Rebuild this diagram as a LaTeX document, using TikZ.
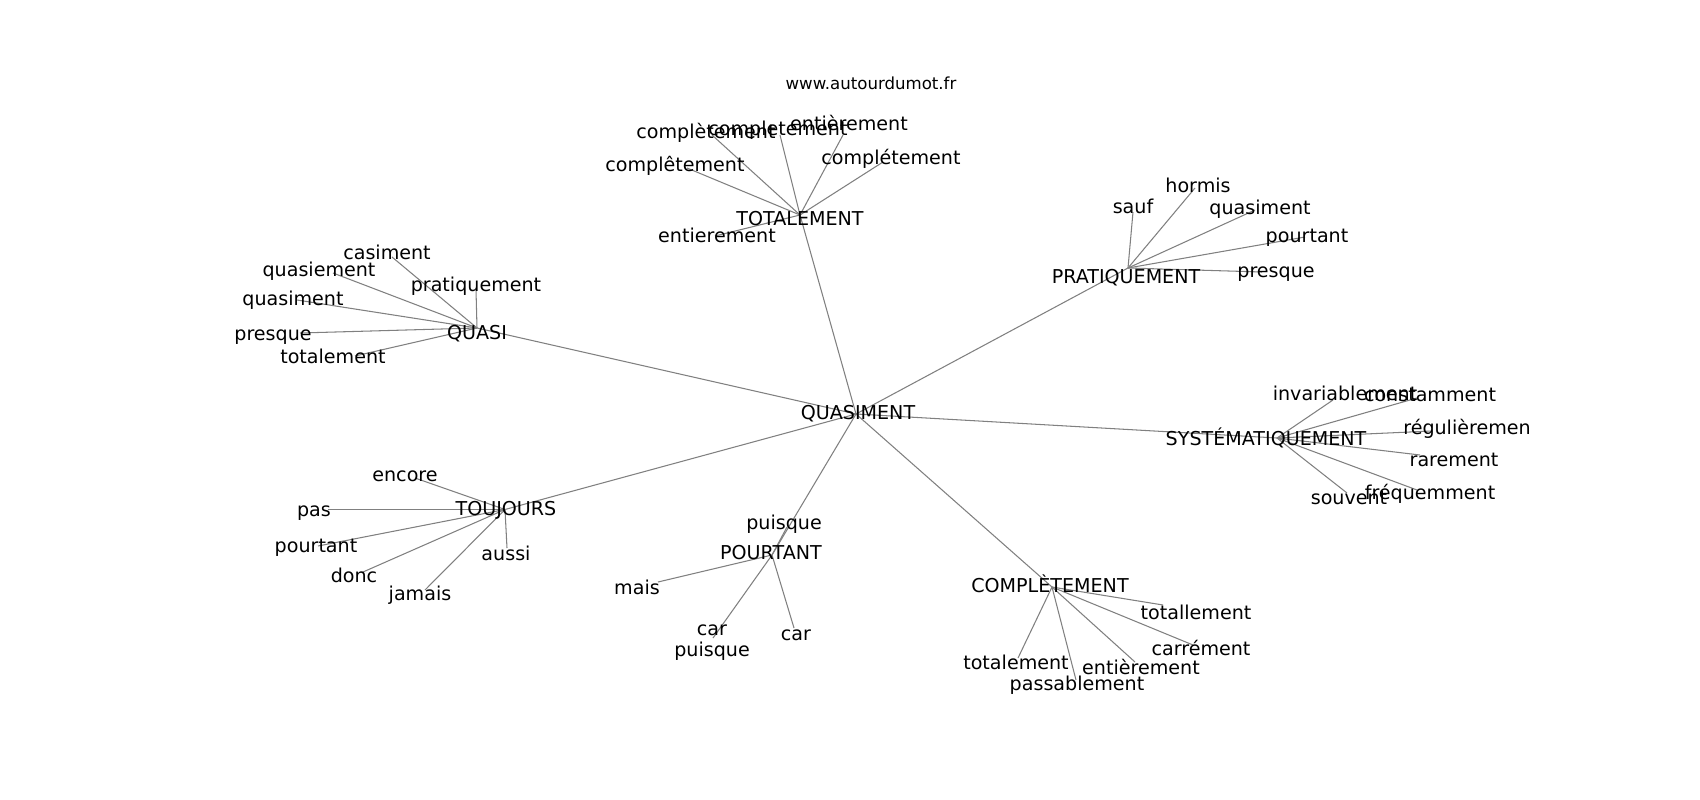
\documentclass[tikz,border=0pt]{standalone}
\usepackage{fontspec}
\setmainfont{DejaVu Sans}
\definecolor{edgegray}{RGB}{128,128,128}
\begin{document}
\begin{tikzpicture}[x=1pt,y=-1pt,
  lbl/.style={font=\fontsize{19.1}{21}\selectfont, inner sep=0pt, text height=0.55em, text depth=0pt, anchor=center, yshift=-4.5pt},
  ttl/.style={font=\fontsize{16.6}{19}\selectfont, inner sep=0pt, text height=0.55em, text depth=0pt, anchor=center, yshift=-3.5pt},
  edge/.style={draw=edgegray, line width=1.05pt}]
\useasboundingbox[fill=white] (0,0) rectangle (1700,800);

% node positions
\coordinate (Q) at (856,414);
\coordinate (T) at (800,215);
\coordinate (QS) at (477,328);
\coordinate (P) at (1128,268);
\coordinate (S) at (1277,438);
\coordinate (J) at (505,509.5);
\coordinate (PO) at (772,555);
\coordinate (C) at (1052,587);

\coordinate (t1) at (712,135);
\coordinate (t2) at (780,135);
\coordinate (t3) at (843,135);
\coordinate (t4) at (687,168);
\coordinate (t5) at (883,162);
\coordinate (t6) at (715,236);

\coordinate (q1) at (392,257);
\coordinate (q2) at (333,273);
\coordinate (q3) at (476,290);
\coordinate (q4) at (297,300);
\coordinate (q5) at (300,333);
\coordinate (q6) at (355,356);

\coordinate (p1) at (1133,212);
\coordinate (p2) at (1195,188);
\coordinate (p3) at (1255,210);
\coordinate (p4) at (1305,237);
\coordinate (p5) at (1262,272);

\coordinate (s1) at (1333,400);
\coordinate (s2) at (1417,398);
\coordinate (s3) at (1432,431);
\coordinate (s4) at (1420,455);
\coordinate (s5) at (1417,490);
\coordinate (s6) at (1347,493);

\coordinate (j1) at (415,478);
\coordinate (j2) at (328,509.5);
\coordinate (j3) at (318,546);
\coordinate (j4) at (363,572);
\coordinate (j5) at (425,590);
\coordinate (j6) at (507,548);

\coordinate (o1) at (787,527);
\coordinate (o2) at (658,582);
\coordinate (o3) at (713,638);
\coordinate (o4) at (794,628);

\coordinate (c1) at (1163,605);
\coordinate (c2) at (1193,645);
\coordinate (c3) at (1135,662);
\coordinate (c4) at (1076,680);
\coordinate (c5) at (1018,658);

% edges
\foreach \h in {T,QS,P,S,J,PO,C} \draw[edge] (Q) -- (\h);
\foreach \l in {t1,t2,t3,t4,t5,t6} \draw[edge] (T) -- (\l);
\foreach \l in {q1,q2,q3,q4,q5,q6} \draw[edge] (QS) -- (\l);
\foreach \l in {p1,p2,p3,p4,p5} \draw[edge] (P) -- (\l);
\foreach \l in {s1,s2,s3,s4,s5,s6} \draw[edge] (S) -- (\l);
\foreach \l in {j1,j2,j3,j4,j5,j6} \draw[edge] (J) -- (\l);
\foreach \l in {o1,o2,o3,o4} \draw[edge] (PO) -- (\l);
\foreach \l in {c1,c2,c3,c4,c5} \draw[edge] (C) -- (\l);

% labels
\node[ttl] (title) at (871,83) {www.autourdumot.fr};

\node[lbl] (LQ) at (858,412) {QUASIMENT};
\node[lbl] (LT) at (800,218) {TOTALEMENT};
\node[lbl] (LQS) at (477,332) {QUASI};
\node[lbl] (LP) at (1126,276) {PRATIQUEMENT};
\node[lbl] (LS) at (1266,438) {SYSTÉMATIQUEMENT};
\node[lbl] (LJ) at (506,508) {TOUJOURS};
\node[lbl] (LPO) at (771,552) {POURTANT};
\node[lbl] (LC) at (1050,585) {COMPLÈTEMENT};

\node[lbl] (Lt1) at (706,131) {complètement};
\node[lbl] (Lt2) at (778,128) {completement};
\node[lbl] (Lt3) at (849,123) {entièrement};
\node[lbl] (Lt4) at (675,164) {complêtement};
\node[lbl] (Lt5) at (891,157) {complétement};
\node[lbl] (Lt6) at (717,235) {entierement};

\node[lbl] (Lq1) at (387,252) {casiment};
\node[lbl] (Lq2) at (319,269) {quasiement};
\node[lbl] (Lq3) at (476,284) {pratiquement};
\node[lbl] (Lq4) at (293,298) {quasiment};
\node[lbl] (Lq5) at (273,333) {presque};
\node[lbl] (Lq6) at (333,356) {totalement};

\node[lbl] (Lp1) at (1133,206) {sauf};
\node[lbl] (Lp2) at (1198,185) {hormis};
\node[lbl] (Lp3) at (1260,207) {quasiment};
\node[lbl] (Lp4) at (1307,235) {pourtant};
\node[lbl] (Lp5) at (1276,270) {presque};

\node[lbl] (Ls1) at (1345,393) {invariablement};
\node[lbl] (Ls2) at (1430,394) {constamment};
\node[lbl] (Ls3) at (1467,427) {régulièremen};
\node[lbl] (Ls4) at (1454,459) {rarement};
\node[lbl] (Ls5) at (1430,492) {fréquemment};
\node[lbl] (Ls6) at (1349,497) {souvent};

\node[lbl] (Lj1) at (405,474) {encore};
\node[lbl] (Lj2) at (314,509) {pas};
\node[lbl] (Lj3) at (316,545) {pourtant};
\node[lbl] (Lj4) at (354,575) {donc};
\node[lbl] (Lj5) at (420,593) {jamais};
\node[lbl] (Lj6) at (506,553) {aussi};

\node[lbl] (Lo1) at (784,522) {puisque};
\node[lbl] (Lo2) at (637,587) {mais};
\node[lbl] (Lo3a) at (712,628) {car};
\node[lbl] (Lo3b) at (712,649) {puisque};
\node[lbl] (Lo4) at (796,633) {car};

\node[lbl] (Lc1) at (1196,612) {totallement};
\node[lbl] (Lc2) at (1201,648) {carrément};
\node[lbl] (Lc3) at (1141,667) {entièrement};
\node[lbl] (Lc4) at (1077,683) {passablement};
\node[lbl] (Lc5) at (1016,662) {totalement};
\end{tikzpicture}
\end{document}
